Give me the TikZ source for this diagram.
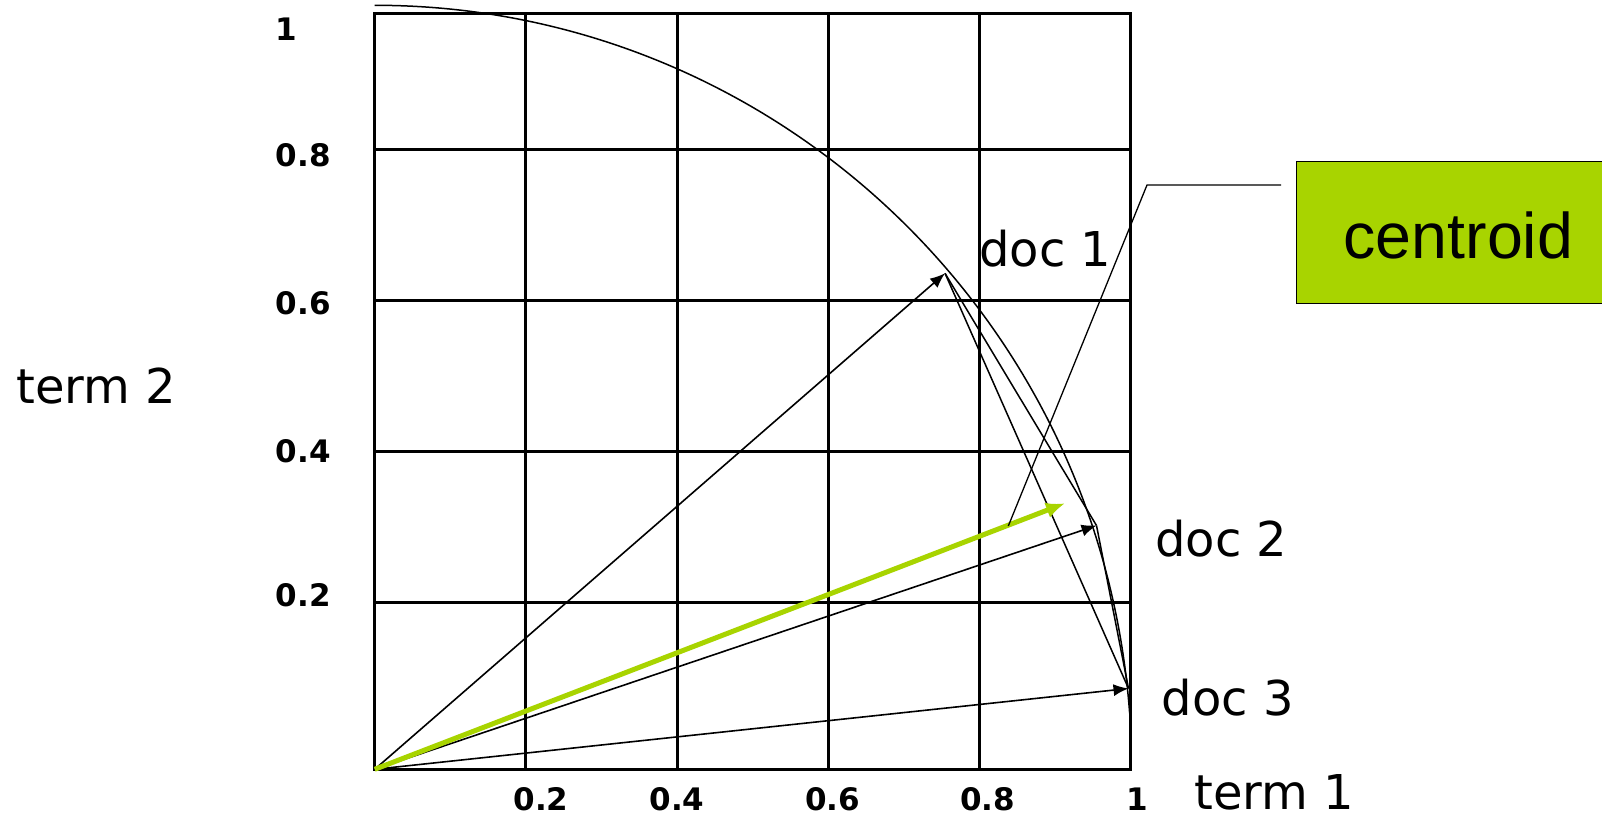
\documentclass[tikz,border=0pt]{standalone}
\usepackage{fontspec}
\setmainfont{DejaVu Sans}
\newfontfamily\arialfont{Liberation Sans}
\usetikzlibrary{arrows.meta}
\definecolor{lime}{RGB}{168,212,0}
\begin{document}
\begin{tikzpicture}[x=1pt,y=-1pt,
  gridline/.style={line width=3pt, line cap=rect},
  vec/.style={line width=1.6pt, -{Latex[length=15pt,width=12pt]}},
  greenvec/.style={line width=5pt, lime, -{Latex[length=19pt,width=16pt]}},
  thinline/.style={line width=1.5pt},
  tick/.style={font=\fontsize{31}{31}\selectfont\bfseries, inner sep=0pt},
  lbl/.style={font=\fontsize{48}{48}\selectfont, inner sep=0pt, anchor=base west},
  calloutbox/.style={draw=black, line width=1.3pt, fill=lime, anchor=north west,
    inner xsep=47pt, inner ysep=0pt, text width=240pt, align=left,
    minimum height=141.7pt, text height=52.8pt, text depth=0pt,
    font=\arialfont\fontsize{64.5}{64.5}\selectfont},
]
\useasboundingbox (0,0) rectangle (1602,818);
% grid
\foreach \x in {374.7,525.9,677.1,828.3,979.5,1130.7}
  \draw[gridline] (\x,13.3) -- (\x,769.3);
\foreach \y in {13.3,149.3,300.5,451.7,602.9,769.3}
  \draw[gridline] (374.7,\y) -- (1130.7,\y);
% tick labels
\node[tick, anchor=west] (y10) at (275.5,29.6) {1};
\node[tick, anchor=west] (y08) at (275.5,155) {0.8};
\node[tick, anchor=west] (y06) at (275.5,303) {0.6};
\node[tick, anchor=west] (y04) at (275.5,451) {0.4};
\node[tick, anchor=west] (y02) at (275.5,595) {0.2};
\node[tick] (x02) at (541,799) {0.2};
\node[tick] (x04) at (677,799) {0.4};
\node[tick] (x06) at (832.5,799) {0.6};
\node[tick] (x08) at (987.5,799) {0.8};
\node[tick] (x10) at (1137.5,799) {1};
% axis and doc labels
\node[lbl] (term2) at (16,403.3) {term 2};
\node[lbl] (term1) at (1194,809) {term 1};
\node[lbl] (doc1) at (979.3,266.7) {doc 1};
\node[lbl] (doc2) at (1155,556.7) {doc 2};
\node[lbl] (doc3) at (1161.6,715) {doc 3};
% unit arc
\draw[thinline] (374.7,5.3) arc[start angle=-90, end angle=-4.2, x radius=757, y radius=764];
% vectors
\coordinate (O) at (374.7,769.3);
\coordinate (d1) at (945,273.3);
\coordinate (d2) at (1096.5,525.5);
\coordinate (d3) at (1128.5,688.5);
\coordinate (cen) at (1065,503.3);
\draw[thinline] (d1) -- (d2);
\draw[thinline] (d1) -- (d3);
\draw[thinline] (d2) -- (d3);
\draw[vec] (O) -- (d1);
\draw[vec] (O) -- (d2);
\draw[vec] (O) -- (d3);
\draw[greenvec] (O) -- (cen);
% centroid callout
\node[calloutbox] (centroid) at (1296,161) {centroid};
\coordinate (cA) at (1281,185);
\coordinate (cB) at (1147,185);
\coordinate (cC) at (1008.3,526);
\draw[line width=1.3pt] (cA) -- (cB) -- (cC);
\end{tikzpicture}
\end{document}
